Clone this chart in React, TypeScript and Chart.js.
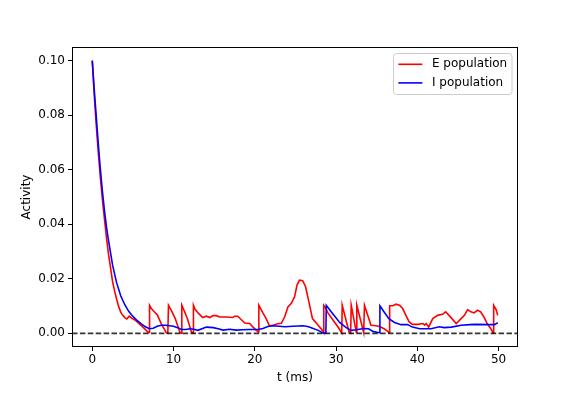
import React, { useEffect, useRef } from 'react';
import { Chart, registerables } from 'chart.js';

Chart.register(...registerables);

// ---- data ----
const eTimes = [
  0, 0.25, 0.5, 0.75, 1.0, 1.25, 1.5, 1.75, 2.0, 2.25, 2.5, 2.75, 3.0, 3.25, 3.5, 3.75, 4.0, 4.25, 4.55, 4.88,
  5.2, 5.5, 5.9, 6.3, 6.85, 7.0, 7.05, 7.3, 7.6, 8.0, 8.5, 9.1, 9.3, 9.38, 9.8, 10.2, 10.8, 10.95, 11.02,
  11.35, 11.75, 12.2, 12.4, 12.45, 12.65, 13.07, 13.6, 14.05, 14.46, 14.87, 15.28, 15.69, 16.5, 17.3, 17.5,
  17.9, 18.35, 18.76, 19.37, 19.78, 20.2, 20.45, 20.5, 21.0, 21.4, 21.8, 22.2, 22.85, 23.27, 23.67, 24.08,
  24.5, 24.9, 25.2, 25.5, 25.9, 26.25, 26.7, 27.1, 27.8, 28.4, 28.48, 28.5, 28.7, 29.0, 29.6, 30.2, 30.7,
  30.76, 31.6, 31.8, 31.87, 32.5, 32.56, 33.4, 33.5, 34.3, 34.7, 35.1, 35.5, 35.9, 36.45, 36.55, 36.6, 37.0,
  37.4, 37.8, 38.2, 38.6, 39.0, 39.4, 40.05, 40.7, 40.9, 41.1, 41.4, 41.9, 42.5, 43.1, 43.5, 43.9, 44.8,
  45.4, 45.8, 46.2, 46.6, 47.0, 47.4, 47.8, 48.2, 48.6, 49.05, 49.35, 49.4, 49.7, 49.9,
];
const eValues = [
  0.1, 0.087, 0.076, 0.066, 0.057, 0.049, 0.042, 0.035, 0.029, 0.024, 0.019, 0.0155, 0.0125, 0.0098, 0.0078,
  0.0066, 0.0058, 0.0053, 0.0063, 0.0055, 0.005, 0.0043, 0.0032, 0.0021, 0.0005, 0.0003, 0.0103, 0.009, 0.008,
  0.0068, 0.0035, 0.0003, 0.0001, 0.0103, 0.008, 0.0055, 0.0003, 0.0001, 0.0103, 0.008, 0.005, 0.0005, 0.0001,
  0.0103, 0.0088, 0.0073, 0.0058, 0.0063, 0.0058, 0.0065, 0.0065, 0.006, 0.006, 0.0058, 0.0063, 0.0063, 0.005,
  0.0038, 0.0036, 0.0023, 0.0011, 0.0005, 0.0103, 0.0075, 0.0054, 0.0028, 0.003, 0.0035, 0.0037, 0.006, 0.0097,
  0.011, 0.0134, 0.0177, 0.0195, 0.0193, 0.0171, 0.011, 0.0054, 0.003, 0.0008, 0.0003, 0.0103, 0.0095, 0.0075,
  0.005, 0.0025, 0.0002, 0.0103, 0.0005, 0.0001, 0.0103, 0.0003, 0.0103, 0.0003, 0.0103, 0.003, 0.0029, 0.0027,
  0.0023, 0.0017, 0.0005, 0.0003, 0.0101, 0.0101, 0.0107, 0.0103, 0.0091, 0.0066, 0.0042, 0.0033, 0.0033,
  0.0036, 0.003, 0.0036, 0.0023, 0.0054, 0.0066, 0.007, 0.0079, 0.0066, 0.0036, 0.0054, 0.0066, 0.0087, 0.0079,
  0.0075, 0.0085, 0.0079, 0.006, 0.0036, 0.0017, 0.0001, 0.0103, 0.0087, 0.0066,
];
const iTimes = [
  0, 0.25, 0.5, 0.75, 1.0, 1.25, 1.5, 1.75, 2.0, 2.5, 3.0, 3.5, 4.0, 4.5, 5.0, 5.5, 6.0, 6.5, 7.0, 7.5, 8.0,
  8.5, 9.0, 9.5, 10.0, 10.5, 11.0, 11.5, 12.0, 12.5, 13.0, 13.5, 14.05, 14.9, 15.5, 16.1, 16.9, 17.7, 18.5,
  19.3, 20.4, 21.0, 21.6, 22.2, 23.0, 23.7, 24.7, 25.9, 26.5, 26.95, 27.8, 28.45, 28.75, 28.8, 29.4, 30.45,
  31.25, 31.85, 32.5, 33.4, 34.0, 34.5, 35.3, 35.4, 35.9, 36.5, 37.2, 38.0, 38.8, 39.4, 40.3, 41.7, 42.7,
  43.3, 44.2, 45.4, 46.5, 47.2, 48.9, 49.5, 49.9,
];
const iValues = [
  0.1, 0.089, 0.079, 0.069, 0.06, 0.052, 0.045, 0.039, 0.034, 0.025, 0.0185, 0.0138, 0.0105, 0.008, 0.0062,
  0.0048, 0.0036, 0.0025, 0.0017, 0.0019, 0.0026, 0.003, 0.003, 0.0028, 0.0026, 0.0021, 0.0014, 0.0014, 0.0017,
  0.0015, 0.0011, 0.0017, 0.0023, 0.0021, 0.0017, 0.0012, 0.0015, 0.0012, 0.0013, 0.0014, 0.0014, 0.0018,
  0.0025, 0.0028, 0.0026, 0.0024, 0.0026, 0.0028, 0.0025, 0.0021, 0.0011, 0.0001, 0.0001, 0.0103, 0.0079,
  0.004, 0.0021, 0.0011, 0.0013, 0.0018, 0.0017, 0.0008, 0.0002, 0.0101, 0.0079, 0.0054, 0.004, 0.0032, 0.0032,
  0.0023, 0.0017, 0.0017, 0.0024, 0.0021, 0.0023, 0.003, 0.0032, 0.0033, 0.0032, 0.0032, 0.0039,
];
const seriesLabels = ['E population', 'I population'];
const seriesColors = ['#ff0000', '#0000ff'];
const xTicks = [0, 10, 20, 30, 40, 50];
const yTicks = [0, 0.02, 0.04, 0.06, 0.08, 0.1];
const xRange = [-2.495, 52.395];
const yRange = [-0.005, 0.105];
const baselineValue = 0;
const xTitle = 't (ms)';
const yTitle = 'Activity';

const FONT = '"DejaVu Sans", sans-serif';

const framePlugin = {
  id: 'mplFrame',
  afterDatasetsDraw(chart: any) {
    const { ctx, chartArea } = chart;
    const l = Math.round(chartArea.left) + 0.5;
    const t = Math.round(chartArea.top) + 0.5;
    const r = Math.round(chartArea.right) - 0.5;
    const b = Math.round(chartArea.bottom) - 0.5;
    ctx.save();
    ctx.strokeStyle = '#000';
    ctx.lineWidth = 1;
    ctx.strokeRect(l, t, r - l, b - t);
    ctx.restore();
  },
};

const legendPlugin = {
  id: 'mplLegend',
  afterDraw(chart: any) {
    const { ctx, chartArea } = chart;
    const fs = 12;
    ctx.save();
    ctx.font = `${fs}px ${FONT}`;
    const textW = Math.max(...seriesLabels.map((s) => ctx.measureText(s).width));
    const pad = 4.8;
    const handle = 24;
    const hpad = 9.6;
    const w = pad + handle + hpad + textW + pad;
    const h = 41;
    const right = chartArea.right - 6;
    const top = chartArea.top + 6.5;
    const left = right - w;
    const rad = 3;
    ctx.beginPath();
    ctx.moveTo(left + rad, top);
    ctx.lineTo(right - rad, top);
    ctx.arcTo(right, top, right, top + rad, rad);
    ctx.lineTo(right, top + h - rad);
    ctx.arcTo(right, top + h, right - rad, top + h, rad);
    ctx.lineTo(left + rad, top + h);
    ctx.arcTo(left, top + h, left, top + h - rad, rad);
    ctx.lineTo(left, top + rad);
    ctx.arcTo(left, top, left + rad, top, rad);
    ctx.closePath();
    ctx.fillStyle = 'rgba(255,255,255,0.8)';
    ctx.fill();
    ctx.strokeStyle = '#cccccc';
    ctx.lineWidth = 1;
    ctx.stroke();
    seriesLabels.forEach((lab, i) => {
      const cy = top + 10.8 + i * 18.6;
      ctx.beginPath();
      ctx.strokeStyle = seriesColors[i];
      ctx.lineWidth = 1.6;
      ctx.moveTo(left + pad, cy);
      ctx.lineTo(left + pad + handle, cy);
      ctx.stroke();
      ctx.fillStyle = '#000';
      ctx.textBaseline = 'middle';
      ctx.textAlign = 'left';
      ctx.fillText(lab, left + pad + handle + hpad, cy);
    });
    ctx.restore();
  },
};

export default function App() {
  const ref = useRef<HTMLCanvasElement | null>(null);
  useEffect(() => {
    document.body.style.margin = '0';
    const canvas = ref.current;
    if (!canvas) return;
    const font = { family: FONT, size: 12 };
    const chart = new Chart(canvas, {
      type: 'line',
      data: {
        datasets: [
          {
            label: seriesLabels[0],
            data: eTimes.map((t, i) => ({ x: t, y: eValues[i] })),
            borderColor: seriesColors[0],
            borderWidth: 1.6,
            pointRadius: 0,
            fill: false,
            tension: 0,
            order: 3,
          },
          {
            label: seriesLabels[1],
            data: iTimes.map((t, i) => ({ x: t, y: iValues[i] })),
            borderColor: seriesColors[1],
            borderWidth: 1.6,
            pointRadius: 0,
            fill: false,
            tension: 0,
            order: 2,
          },
          {
            label: 'baseline',
            data: [
              { x: xRange[0], y: baselineValue },
              { x: xRange[1], y: baselineValue },
            ],
            borderColor: 'rgba(0,0,0,0.8)',
            borderWidth: 1.6,
            borderDash: [5.5, 2.4],
            pointRadius: 0,
            fill: false,
            order: 1,
          },
        ],
      },
      options: {
        responsive: false,
        animation: false,
        devicePixelRatio: 1,
        layout: { padding: { left: 0, right: 58, top: 47, bottom: 0 } },
        plugins: { legend: { display: false }, tooltip: { enabled: false } },
        scales: {
          x: {
            type: 'linear',
            min: xRange[0],
            max: xRange[1],
            afterBuildTicks: (s: any) => {
              s.ticks = xTicks.map((v) => ({ value: v }));
            },
            afterFit: (s: any) => {
              s.height = 49;
            },
            ticks: {
              font,
              color: '#000',
              padding: 2,
              maxRotation: 0,
              autoSkip: false,
              callback: (v: any) => String(v),
            },
            grid: { drawOnChartArea: false, drawTicks: true, tickLength: 4, color: '#000' },
            border: { display: false },
            title: { display: true, text: xTitle, font, color: '#000', padding: { top: 0, bottom: 11 } },
          },
          y: {
            type: 'linear',
            min: yRange[0],
            max: yRange[1],
            afterBuildTicks: (s: any) => {
              s.ticks = yTicks.map((v) => ({ value: v }));
            },
            afterFit: (s: any) => {
              s.width = 72;
            },
            ticks: {
              font,
              color: '#000',
              padding: 3,
              autoSkip: false,
              callback: (v: any) => Number(v).toFixed(2),
            },
            grid: { drawOnChartArea: false, drawTicks: true, tickLength: 4, color: '#000' },
            border: { display: false },
            title: { display: true, text: yTitle, font, color: '#000', padding: { top: 20, bottom: 0 } },
          },
        },
      },
      plugins: [framePlugin, legendPlugin],
    } as any);
    return () => chart.destroy();
  }, []);
  return <canvas ref={ref} width={576} height={396} style={{ display: 'block' }} />;
}
